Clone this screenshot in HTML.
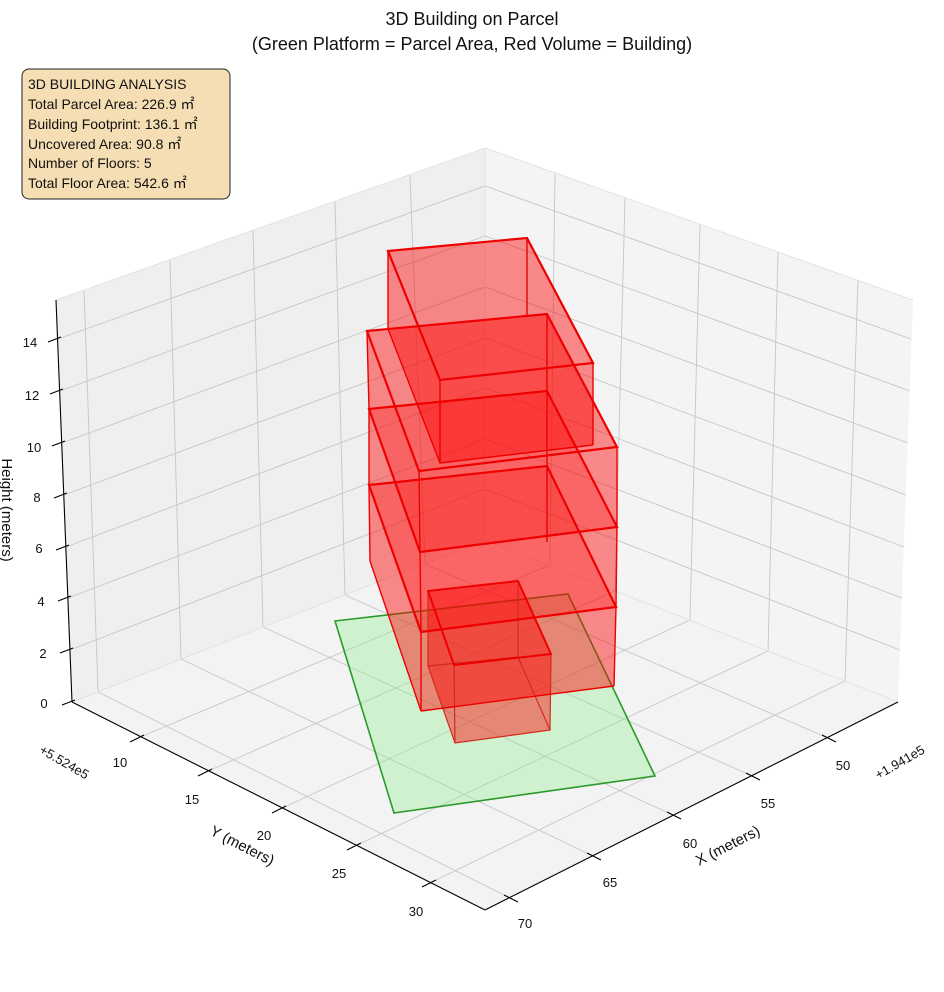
<!DOCTYPE html>
<html><head><meta charset="utf-8"><style>
body{margin:0;background:#fff;}
svg{display:block;font-family:"Liberation Sans","Noto Sans CJK JP",sans-serif;}
</style></head><body>
<svg width="944" height="992" viewBox="0 0 944 992" xmlns="http://www.w3.org/2000/svg">
<rect width="944" height="992" fill="#fff"/>
<!-- panes -->
<polygon points="56,300 485,148 485,540 72,702" fill="#efefef"/>
<polygon points="485,148 913,300 898,702 485,540" fill="#f4f4f4"/>
<polygon points="72,702 485,540 898,702 485,910" fill="#f3f3f3"/>
<g stroke="#c6c6c6" stroke-width="0.9" fill="none">
<!-- z lines -->
<polyline points="70,650 485,489 900,650"/>
<polyline points="68,598 485,439 902,598"/>
<polyline points="66,547 485,388 904,547"/>
<polyline points="64,495 485,338 906,495"/>
<polyline points="62,443 485,287 908,443"/>
<polyline points="60,391 485,236 910,391"/>
<polyline points="58,339 485,186 911,339"/>
<!-- left pane verticals + floor -->
<polyline points="84,290 98,692 510,898"/>
<polyline points="170,260 181,659 593,856"/>
<polyline points="253,230 263,627 673,815"/>
<polyline points="335,201 345,595 752,776"/>
<polyline points="410,175 425,564 828,738"/>
<!-- right pane verticals + floor -->
<polyline points="555,173 550,565 138,738"/>
<polyline points="625,198 615,591 206,772"/>
<polyline points="700,224 690,620 280,809"/>
<polyline points="778,252 768,651 355,846"/>
<polyline points="858,280 845,681 430,883"/>
</g>
<!-- pane edges faint -->
<g stroke="#e2e2e2" stroke-width="1" fill="none">
<polyline points="56,300 485,148 913,300"/><line x1="485" y1="148" x2="485" y2="540"/>
<polyline points="72,702 485,540 898,702"/>
</g>
<!-- parcel -->
<polygon points="335,621 568,594 655,776 394,813" fill="rgba(144,238,144,0.35)" stroke="#2a9a2a" stroke-width="1.6"/>
<!-- boxes -->
<g fill="rgba(255,0,0,0.25)" stroke="none">
<!-- box1 -->
<polygon points="428,666 518,657 550,730 455,743"/>
<polygon points="428,591 518,581 518,657 428,666"/>
<polygon points="428,591 454,665 455,743 428,666"/>
<polygon points="518,581 551,654 550,730 518,657"/>
<polygon points="454,665 551,654 550,730 455,743"/>
<polygon points="428,591 518,581 551,654 454,665"/>
<!-- box2 -->
<polygon points="370,561 547,542 614,686 421,711"/>
<polygon points="369,485 547,466 547,542 370,561"/>
<polygon points="369,485 421,632 421,711 370,561"/>
<polygon points="547,466 616,607 614,686 547,542"/>
<polygon points="421,632 616,607 614,686 421,711"/>
<polygon points="369,485 547,466 616,607 421,632"/>
<!-- box3 -->
<polygon points="369,409 547,391 547,466 369,485"/>
<polygon points="369,409 420,552 421,632 369,485"/>
<polygon points="547,391 617,527 616,607 547,466"/>
<polygon points="420,552 617,527 616,607 421,632"/>
<polygon points="369,409 547,391 617,527 420,552"/>
<!-- box4 -->
<polygon points="367,331 547,314 547,391 369,409"/>
<polygon points="367,331 419,471 420,552 369,409"/>
<polygon points="547,314 617,447 617,527 547,391"/>
<polygon points="419,471 617,447 617,527 420,552"/>
<polygon points="367,331 547,314 617,447 419,471"/>
<!-- box5 -->
<polygon points="388,329 527,316 593,445 440,463"/>
<polygon points="388,251 527,238 527,316 388,329"/>
<polygon points="388,251 440,380 440,463 388,329"/>
<polygon points="527,238 593,363 593,445 527,316"/>
<polygon points="440,380 593,363 593,445 440,463"/>
<polygon points="388,251 527,238 593,363 440,380"/>
</g>
<g fill="none" stroke="#d42a1a" stroke-width="1.2">
<polygon points="428,666 518,657 550,730 455,743"/>
<line x1="428" y1="591" x2="428" y2="666"/><line x1="518" y1="581" x2="518" y2="657"/>
<line x1="551" y1="654" x2="550" y2="730"/><line x1="454" y1="665" x2="455" y2="743"/>
</g>
<polygon points="428,591 518,581 551,654 454,665" fill="none" stroke="#e00" stroke-width="2"/>
<g fill="none" stroke="#e00" stroke-width="1.4">
<line x1="370" y1="561" x2="421" y2="711"/><line x1="421" y1="711" x2="614" y2="686"/>
<line x1="369" y1="485" x2="370" y2="561"/><line x1="547" y1="466" x2="547" y2="542"/>
<line x1="616" y1="607" x2="614" y2="686"/><line x1="421" y1="632" x2="421" y2="711"/>
<line x1="369" y1="409" x2="369" y2="485"/><line x1="547" y1="391" x2="547" y2="466"/>
<line x1="617" y1="527" x2="616" y2="607"/><line x1="420" y1="552" x2="421" y2="632"/>
<line x1="367" y1="331" x2="369" y2="409"/><line x1="547" y1="314" x2="547" y2="391"/>
<line x1="617" y1="447" x2="617" y2="527"/><line x1="419" y1="471" x2="420" y2="552"/>
<line x1="388" y1="251" x2="388" y2="329"/><line x1="527" y1="238" x2="527" y2="316"/>
<line x1="593" y1="363" x2="593" y2="445"/><line x1="440" y1="380" x2="440" y2="463"/>
<polyline points="388,329 440,463 593,445"/>
</g>
<g fill="none" stroke="#e00" stroke-width="2.2">
<polygon points="369,485 547,466 616,607 421,632"/>
<polygon points="369,409 547,391 617,527 420,552"/>
<polygon points="367,331 547,314 617,447 419,471"/>
<polygon points="388,251 527,238 593,363 440,380"/>
</g>
<!-- axes -->
<g stroke="#000" stroke-width="1.1" fill="none">
<line x1="56" y1="300" x2="72" y2="702"/>
<line x1="72" y1="702" x2="485" y2="910"/>
<line x1="485" y1="910" x2="898" y2="702"/>
<line x1="62" y1="705" x2="75" y2="700"/>
<line x1="60" y1="653" x2="73" y2="648"/>
<line x1="58" y1="601" x2="71" y2="596"/>
<line x1="56" y1="550" x2="69" y2="545"/>
<line x1="54" y1="498" x2="67" y2="493"/>
<line x1="52" y1="446" x2="65" y2="441"/>
<line x1="50" y1="394" x2="63" y2="389"/>
<line x1="48" y1="342" x2="61" y2="337"/>
<line x1="130" y1="742" x2="144" y2="735"/>
<line x1="198" y1="776" x2="212" y2="769"/>
<line x1="272" y1="813" x2="286" y2="806"/>
<line x1="347" y1="850" x2="361" y2="843"/>
<line x1="422" y1="887" x2="436" y2="880"/>
<line x1="822" y1="735" x2="836" y2="742"/>
<line x1="746" y1="773" x2="760" y2="780"/>
<line x1="667" y1="812" x2="681" y2="819"/>
<line x1="587" y1="853" x2="601" y2="860"/>
<line x1="504" y1="895" x2="518" y2="902"/>
</g>
<g font-size="13" fill="#111" text-anchor="middle">
<text x="44" y="708">0</text><text x="43" y="658">2</text><text x="41" y="606">4</text>
<text x="39" y="553">6</text><text x="37" y="502">8</text><text x="34" y="452">10</text>
<text x="32" y="400">12</text><text x="30" y="347">14</text>
<text x="120" y="767">10</text><text x="192" y="804">15</text><text x="264" y="840">20</text>
<text x="339" y="878">25</text><text x="416" y="916">30</text>
<text x="843" y="770">50</text><text x="768" y="808">55</text><text x="690" y="848">60</text>
<text x="610" y="887">65</text><text x="525" y="928">70</text>
<text transform="translate(62,766) rotate(30)">+5.524e5</text>
<text transform="translate(902,766) rotate(-30)">+1.941e5</text>
</g>
<g font-size="15" fill="#111" text-anchor="middle">
<text transform="translate(240,850) rotate(27)">Y (meters)</text>
<text transform="translate(730,850) rotate(-27)">X (meters)</text>
<text transform="translate(2,510) rotate(90)">Height (meters)</text>
</g>
<g font-size="18" fill="#111" text-anchor="middle">
<text x="472" y="25">3D Building on Parcel</text>
<text x="472" y="50">(Green Platform = Parcel Area, Red Volume = Building)</text>
</g>
<rect x="22" y="69" width="208" height="130" rx="7" fill="#f5deb3" stroke="#222" stroke-width="1"/>
<g font-size="14" fill="#111">
<text x="28" y="89">3D BUILDING ANALYSIS</text>
<text x="28" y="109">Total Parcel Area: 226.9 ㎡</text>
<text x="28" y="129">Building Footprint: 136.1 ㎡</text>
<text x="28" y="149">Uncovered Area: 90.8 ㎡</text>
<text x="28" y="168">Number of Floors: 5</text>
<text x="28" y="188">Total Floor Area: 542.6 ㎡</text>
</g>
</svg>
</body></html>
